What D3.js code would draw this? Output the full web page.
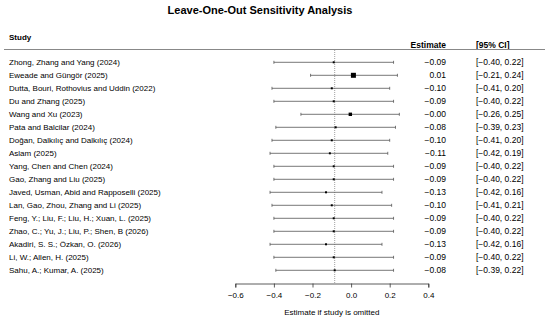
<!DOCTYPE html>
<html>
<head>
<meta charset="utf-8">
<script src="https://cdn.jsdelivr.net/npm/d3@7"></script>
<style>
  body { margin: 0; background: #fff; }
  text { font-family: "Liberation Sans", Arial, sans-serif; fill: #000; }
</style>
</head>
<body>
<svg id="chart"></svg>
<script>
// study labels, top to bottom
const studies = [
  "Zhong, Zhang and Yang (2024)",
  "Eweade and Güngör (2025)",
  "Dutta, Bouri, Rothovius and Uddin (2022)",
  "Du and Zhang (2025)",
  "Wang and Xu (2023)",
  "Pata and Balcilar (2024)",
  "Doğan, Dalkılıç and Dalkılıç (2024)",
  "Aslam (2025)",
  "Yang, Chen and Chen (2024)",
  "Gao, Zhang and Liu (2025)",
  "Javed, Usman, Abid and Rapposelli (2025)",
  "Lan, Gao, Zhou, Zhang and Li (2025)",
  "Feng, Y.; Liu, F.; Liu, H.; Xuan, L. (2025)",
  "Zhao, C.; Yu, J.; Liu, P.; Shen, B (2026)",
  "Akadiri, S. S.; Özkan, O. (2026)",
  "Li, W.; Allen, H. (2025)",
  "Sahu, A.; Kumar, A. (2025)"
];
const estimates = [-0.09, 0.012, -0.10, -0.09, -0.004, -0.08, -0.10, -0.11, -0.09, -0.09, -0.13, -0.10, -0.09, -0.09, -0.13, -0.09, -0.085];
const ciLower = [-0.40, -0.21, -0.41, -0.40, -0.26, -0.39, -0.41, -0.42, -0.40, -0.40, -0.42, -0.41, -0.40, -0.40, -0.42, -0.40, -0.39];
const ciUpper = [0.22, 0.24, 0.20, 0.22, 0.25, 0.23, 0.20, 0.19, 0.22, 0.22, 0.16, 0.21, 0.22, 0.22, 0.16, 0.22, 0.22];
const estLabels = ["−0.09", "0.01", "−0.10", "−0.09", "−0.00", "−0.08", "−0.10", "−0.11", "−0.09", "−0.09", "−0.13", "−0.10", "−0.09", "−0.09", "−0.13", "−0.09", "−0.08"];
const ciLabels = ["[−0.40, 0.22]", "[−0.21, 0.24]", "[−0.41, 0.20]", "[−0.40, 0.22]", "[−0.26, 0.25]", "[−0.39, 0.23]", "[−0.41, 0.20]", "[−0.42, 0.19]", "[−0.40, 0.22]", "[−0.40, 0.22]", "[−0.42, 0.16]", "[−0.41, 0.21]", "[−0.40, 0.22]", "[−0.40, 0.22]", "[−0.42, 0.16]", "[−0.40, 0.22]", "[−0.39, 0.22]"];
// relative marker weight (box size)
const weights = [1, 2.5, 1, 1, 1.7, 1, 1, 1, 1, 1, 1, 1, 1, 1, 1, 1, 1];
const pooled = -0.085;
const xTicks = [-0.6, -0.4, -0.2, 0.0, 0.2, 0.4];

const width = 550, height = 321;
const svg = d3.select("#chart").attr("width", width).attr("height", height);

const x = d3.scaleLinear().domain([-0.6, 0.4]).range([235.3, 428.3]);
const y = d3.scalePoint().domain(d3.range(studies.length)).range([62.3, 270.3]);
const axisY = 283.5;

// title
svg.append("text")
  .attr("x", 260).attr("y", 14)
  .attr("text-anchor", "middle")
  .style("font-size", "11px").style("font-weight", "bold")
  .text("Leave-One-Out Sensitivity Analysis");

// headers
svg.append("text").attr("x", 9).attr("y", 39.5)
  .style("font-size", "8px").style("font-weight", "bold").text("Study");
svg.append("text").attr("x", 446).attr("y", 47.5).attr("text-anchor", "end")
  .style("font-size", "8.5px").style("font-weight", "bold").text("Estimate");
svg.append("text").attr("x", 476).attr("y", 47.5)
  .style("font-size", "8.5px").style("font-weight", "bold").text("[95% CI]");

svg.append("line")
  .attr("x1", 4).attr("x2", 545).attr("y1", 49.5).attr("y2", 49.5)
  .attr("stroke", "#888").attr("stroke-width", 1);

// pooled reference line
svg.append("line")
  .attr("x1", x(pooled)).attr("x2", x(pooled))
  .attr("y1", 50).attr("y2", axisY)
  .attr("stroke", "#888").attr("stroke-width", 0.8)
  .attr("stroke-dasharray", "1,1");

const rows = svg.append("g").selectAll("g")
  .data(studies.map((s, i) => ({ s, i })))
  .join("g");

rows.append("text")
  .attr("x", 9).attr("y", d => y(d.i) + 3)
  .style("font-size", "8px")
  .text(d => d.s);

rows.append("line")
  .attr("x1", d => x(ciLower[d.i])).attr("x2", d => x(ciUpper[d.i]))
  .attr("y1", d => y(d.i)).attr("y2", d => y(d.i))
  .attr("stroke", "#555").attr("stroke-width", 0.8);

rows.selectAll(".cap")
  .data(d => [x(ciLower[d.i]), x(ciUpper[d.i])].map(v => ({ v, i: d.i })))
  .join("line")
  .attr("x1", c => c.v).attr("x2", c => c.v)
  .attr("y1", c => y(c.i) - 1.5).attr("y2", c => y(c.i) + 1.5)
  .attr("stroke", "#555").attr("stroke-width", 0.8);

rows.append("rect")
  .attr("x", d => x(estimates[d.i]) - weights[d.i])
  .attr("y", d => y(d.i) - weights[d.i])
  .attr("width", d => weights[d.i] * 2)
  .attr("height", d => weights[d.i] * 2)
  .attr("fill", "#000");

rows.append("text")
  .attr("x", 446).attr("y", d => y(d.i) + 3)
  .attr("text-anchor", "end")
  .style("font-size", "8.5px")
  .text(d => estLabels[d.i]);

rows.append("text")
  .attr("x", 476).attr("y", d => y(d.i) + 3)
  .style("font-size", "8.5px")
  .text(d => ciLabels[d.i]);

// x axis
const xAxis = d3.axisBottom(x).tickValues(xTicks).tickSizeOuter(0).tickSize(4).tickPadding(5)
  .tickFormat(d => d3.format(".1f")(d).replace("-", "−"));
const xAxisG = svg.append("g").attr("transform", `translate(0,${axisY})`).call(xAxis);
xAxisG.select(".domain").attr("stroke", "#333").attr("stroke-width", 0.8);
xAxisG.selectAll(".tick line").attr("stroke", "#333").attr("stroke-width", 0.8);
xAxisG.selectAll(".tick text")
  .style("font-size", "8px").style("font-family", "Liberation Sans, Arial, sans-serif").attr("fill", "#000");

svg.append("text")
  .attr("x", x(-0.1)).attr("y", 315)
  .attr("text-anchor", "middle")
  .style("font-size", "8px")
  .text("Estimate if study is omitted");
</script>
</body>
</html>
